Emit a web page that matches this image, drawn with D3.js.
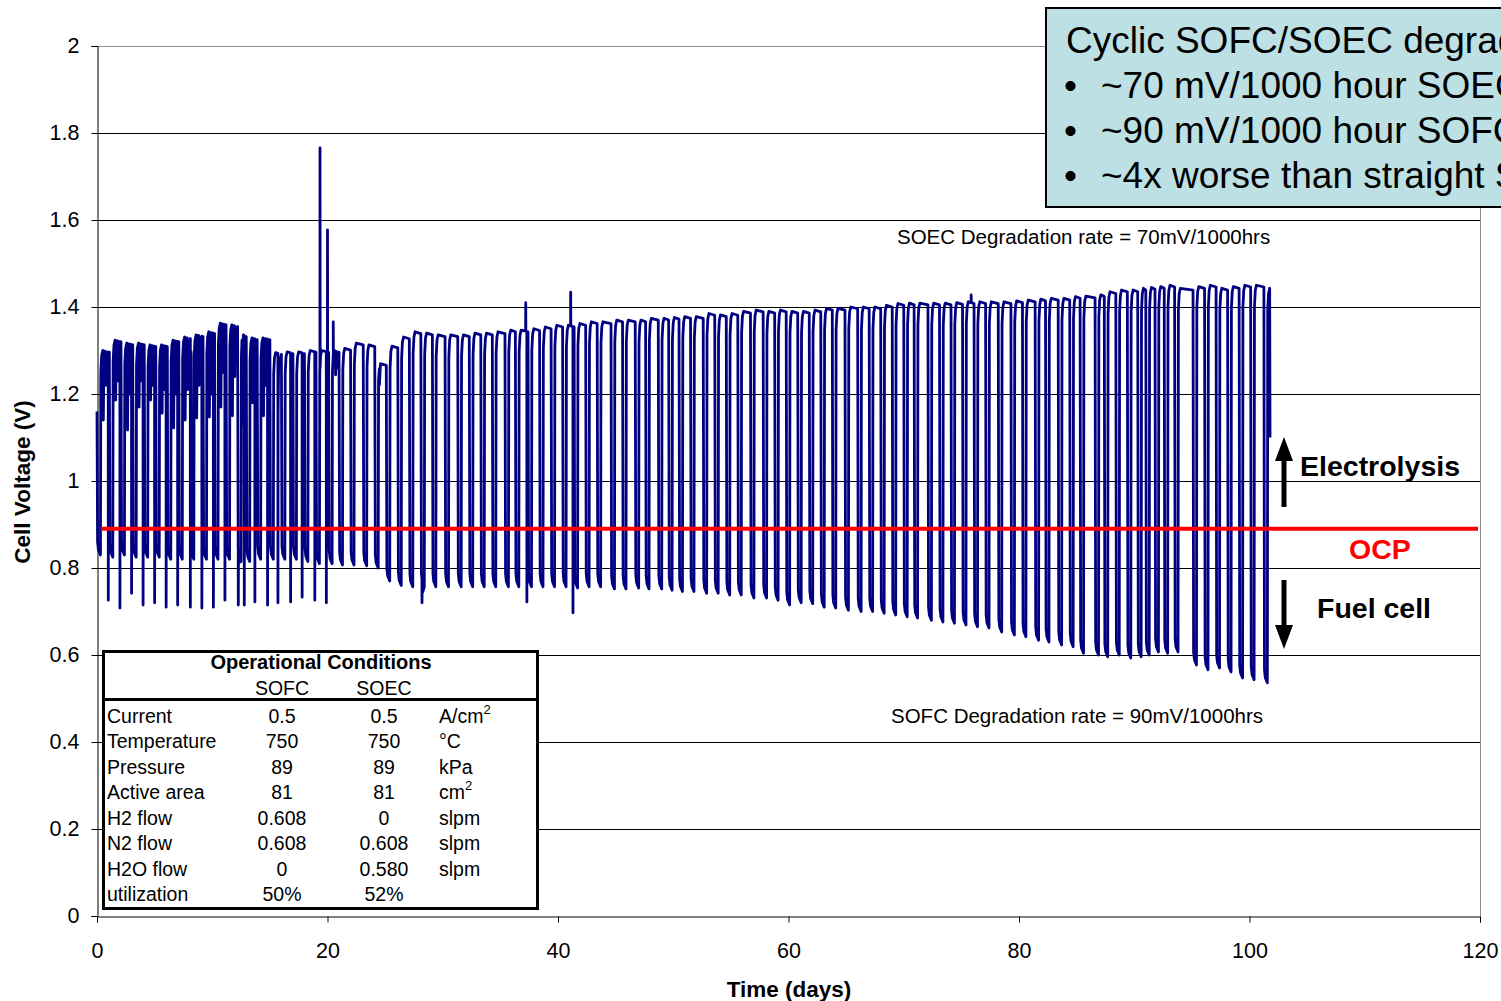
<!DOCTYPE html>
<html lang="en">
<head>
<meta charset="UTF-8">
<title>Cyclic SOFC/SOEC</title>
<script src="https://cdn.jsdelivr.net/npm/d3@7/dist/d3.min.js"></script>
<style>
  body { margin: 0; background: #fff; }
  text { font-family: "Liberation Sans", Arial, sans-serif; }
</style>
</head>
<body>
<div id="chart"></div>
<script>
// day of each SOFC bottom, the SOEC plateau that follows it, and the SOFC bottom value
var cycleDay = [
  0.2, 1.27, 2.28, 3.3, 4.3, 5.3, 6.3, 7.3, 8.3, 9.4,
  10.4, 11.4, 12.4, 13.15, 14.1, 15.2, 16.2, 17.2, 18.2, 19.2,
  20.3, 21.2, 22.2, 23.3, 24.3, 25.3, 26.3, 27.3, 28.3, 29.3,
  30.4, 31.5, 32.5, 33.5, 34.5, 35.6, 36.5, 37.6, 38.6, 39.6,
  40.6, 41.6, 42.6, 43.6, 44.8, 45.8, 46.9, 47.8, 48.9, 49.8,
  50.7, 51.7, 52.8, 53.8, 54.8, 55.8, 56.9, 58.0, 59.0, 60.0,
  61.0, 62.0, 63.0, 64.0, 65.1, 66.2, 67.2, 68.2, 69.2, 70.2,
  71.1, 72.3, 73.3, 74.3, 75.3, 76.3, 77.3, 78.4, 79.5, 80.5,
  81.6, 82.5, 83.6, 84.6, 85.5, 86.8, 87.6, 88.6, 89.6, 90.5,
  91.2, 92.0, 92.8, 93.7, 95.3, 96.3, 97.3, 98.3, 99.3, 100.3,
  101.45
];
var soecHigh = [
  1.30, 1.324, 1.317, 1.317, 1.313, 1.313, 1.324, 1.331, 1.336, 1.343,
  1.363, 1.359, 1.336, 1.329, 1.329, 1.295, 1.297, 1.297, 1.30, 1.30,
  1.30, 1.305, 1.317, 1.313, 1.27, 1.31, 1.331, 1.343, 1.34, 1.336,
  1.336, 1.336, 1.34, 1.34, 1.343, 1.347, 1.347, 1.35, 1.354, 1.358,
  1.358, 1.362, 1.366, 1.366, 1.37, 1.37, 1.37, 1.374, 1.374, 1.376,
  1.378, 1.378, 1.385, 1.382, 1.385, 1.39, 1.393, 1.39, 1.393, 1.39,
  1.39, 1.393, 1.397, 1.397, 1.40, 1.40, 1.40, 1.404, 1.408, 1.409,
  1.409, 1.409, 1.409, 1.41, 1.412, 1.412, 1.412, 1.412, 1.414, 1.416,
  1.418, 1.42, 1.42, 1.424, 1.425, 1.428, 1.435, 1.439, 1.439, 1.443,
  1.445, 1.447, 1.45, 1.443, 1.447, 1.45, 1.443, 1.447, 1.45, 1.45,
  1.443
];
var sofcLow = [
  0.83, 0.825, 0.83, 0.825, 0.825, 0.825, 0.82, 0.82, 0.82, 0.82,
  0.82, 0.82, 0.815, 0.815, 0.82, 0.82, 0.82, 0.82, 0.815, 0.81,
  0.81, 0.807, 0.807, 0.805, 0.80, 0.77, 0.76, 0.757, 0.757, 0.757,
  0.757, 0.757, 0.757, 0.757, 0.757, 0.757, 0.757, 0.757, 0.757, 0.757,
  0.757, 0.754, 0.757, 0.757, 0.752, 0.752, 0.754, 0.752, 0.752, 0.749,
  0.746, 0.746, 0.742, 0.742, 0.738, 0.738, 0.731, 0.731, 0.726, 0.715,
  0.72, 0.718, 0.71, 0.708, 0.703, 0.70, 0.70, 0.696, 0.692, 0.688,
  0.685, 0.68, 0.676, 0.673, 0.669, 0.665, 0.662, 0.653, 0.646, 0.642,
  0.634, 0.63, 0.623, 0.619, 0.604, 0.60, 0.596, 0.60, 0.593, 0.596,
  0.60, 0.607, 0.604, 0.607, 0.577, 0.566, 0.57, 0.561, 0.547, 0.543,
  0.536
];

// first and last recorded points
var startPoint = [0, 1.16];
var endPoint = [101.78, 1.1];

// short drops inside the noisy SOEC plateaus
var dipDay = [0.55, 0.75, 1.62, 1.8, 2.65, 2.85, 3.65, 3.85, 4.65, 4.85, 5.65, 5.85, 6.65, 6.85,
  7.65, 7.85, 8.65, 8.85, 9.75, 9.95, 10.75, 10.95, 11.75, 11.95, 12.6, 13.5, 13.65, 14.45, 14.65,
  20.7, 20.85, 24.45];
var dipV = [1.14, 1.22, 1.186, 1.23, 1.117, 1.2, 1.17, 1.23, 1.186, 1.22, 1.156, 1.21, 1.122, 1.2,
  1.14, 1.21, 1.145, 1.22, 1.147, 1.2, 1.17, 1.25, 1.15, 1.24, 1.13, 1.18, 1.22, 1.15, 1.22,
  1.244, 1.26, 1.24];

// deep downward spikes
var spikeDay = [0.98, 1.99, 3.0, 4.0, 5.0, 6.0, 7.0, 8.1, 9.1, 10.1, 11.1, 12.26, 12.78, 13.7,
  14.8, 15.7, 16.8, 17.8, 18.9, 19.9, 28.2, 37.3, 41.3];
var spikeLow = [0.726, 0.708, 0.742, 0.715, 0.72, 0.71, 0.715, 0.71, 0.708, 0.71, 0.726, 0.715,
  0.715, 0.722, 0.715, 0.72, 0.722, 0.733, 0.726, 0.72, 0.72, 0.722, 0.697];

// upward spikes
var peakDay = [19.35, 20.0, 20.5, 37.2, 41.1, 75.85];
var peakV = [1.766, 1.577, 1.366, 1.41, 1.434, 1.428];

var ocp = 0.89;
var xTicks = [0, 20, 40, 60, 80, 100, 120];
var yTicks = [0, 0.2, 0.4, 0.6, 0.8, 1, 1.2, 1.4, 1.6, 1.8, 2];

var tableRows = ["Current", "Temperature", "Pressure", "Active area", "H2 flow", "N2 flow", "H2O flow", "utilization"];
var tableSofc = ["0.5", "750", "89", "81", "0.608", "0.608", "0", "50%"];
var tableSoec = ["0.5", "750", "89", "81", "0", "0.608", "0.580", "52%"];
var tableUnit = ["A/cm|2", "°C", "kPa", "cm|2", "slpm", "slpm", "slpm", ""];

var boxLines = ["Cyclic SOFC/SOEC degradation", "~70 mV/1000 hour SOEC", "~90 mV/1000 hour SOFC", "~4x worse than straight SOEC"];

var w = 1501, h = 1001;
var svg = d3.select('#chart').append('svg').attr('width', w).attr('height', h);

var x = d3.scaleLinear().domain([0, 120]).range([97, 1480]);
var y = d3.scaleLinear().domain([0, 2]).range([916, 46]);

// grid
svg.append('g').selectAll('line').data(yTicks.filter(v => v > 0)).enter().append('line')
  .attr('x1', x(0)).attr('x2', x(120))
  .attr('y1', d => Math.round(y(d)) + 0.5).attr('y2', d => Math.round(y(d)) + 0.5)
  .attr('stroke', d => d == 2 ? '#8c8c8c' : '#000').attr('stroke-width', 1);
svg.append('line').attr('x1', x(120) + 0.5).attr('x2', x(120) + 0.5).attr('y1', y(2)).attr('y2', y(0))
  .attr('stroke', '#8c8c8c');

// axes
var yAxis = d3.axisLeft(y).tickValues(yTicks).tickSize(6).tickPadding(12).tickFormat(d3.format('~g'));
var xAxis = d3.axisBottom(x).tickValues(xTicks).tickSize(6).tickPadding(20);

svg.append('g').attr('class', 'y axis').attr('transform', 'translate(' + (x(0) + 0.5) + ',0)').call(yAxis);
svg.append('g').attr('class', 'x axis').attr('transform', 'translate(0,' + (Math.round(y(0)) + 0.5) + ')').call(xAxis);
svg.selectAll('.axis path').attr('stroke', '#000');
svg.selectAll('.axis line').attr('stroke', '#000');
svg.selectAll('.axis text').attr('font-size', '21.5px').attr('fill', '#000')
  .attr('font-family', '"Liberation Sans", Arial, sans-serif');

svg.append('text').attr('transform', 'translate(30,482) rotate(-90)').attr('text-anchor', 'middle')
  .attr('font-size', '22.5px').attr('font-weight', 'bold').text('Cell Voltage (V)');
svg.append('text').attr('x', 789).attr('y', 997).attr('text-anchor', 'middle')
  .attr('font-size', '22.5px').attr('font-weight', 'bold').text('Time (days)');

// build the voltage trace
var pts = [startPoint];
cycleDay.forEach(function (t, i) {
  var H = soecHigh[i], L = sofcLow[i];
  if (i > 0) pts.push([t - 0.2, soecHigh[i - 1] - 0.004]);
  pts.push([t - 0.15, L + 0.03], [t - 0.08, L + 0.012], [t + 0.1, L],
    [t + 0.13, H - 0.05], [t + 0.2, H - 0.012], [t + 0.3, H]);
});
pts.push(endPoint);

var bis = d3.bisector(p => p[0]).left;
function baseAt(d) {
  var i = bis(pts, d);
  var a = pts[i - 1], b = pts[i];
  return a[1] + (b[1] - a[1]) * (d - a[0]) / (b[0] - a[0]);
}
var extra = [];
dipDay.forEach(function (d, i) {
  var b = baseAt(d);
  extra.push([d - 0.02, b], [d, dipV[i]], [d + 0.05, b - 0.01]);
});
spikeDay.forEach(function (d, i) {
  var b = baseAt(d);
  extra.push([d - 0.005, b], [d, spikeLow[i]], [d + 0.015, Math.min(1.15, b)], [d + 0.06, b - 0.03]);
});
peakDay.forEach(function (d, i) {
  var b = baseAt(d);
  extra.push([d - 0.006, b], [d, peakV[i]], [d + 0.012, b]);
});
var all = pts.concat(extra).sort((a, b) => a[0] - b[0]);

var line = d3.line().x(d => x(d[0])).y(d => y(d[1]));
svg.append('path').datum(all).attr('d', line)
  .attr('fill', 'none').attr('stroke', '#000080').attr('stroke-width', 2.8)
  .attr('stroke-linejoin', 'round');

// OCP line
svg.append('line').attr('x1', x(0.35)).attr('x2', 1478).attr('y1', y(ocp)).attr('y2', y(ocp))
  .attr('stroke', '#ff0000').attr('stroke-width', 4);

// degradation notes
svg.append('text').attr('x', 897).attr('y', 244).attr('font-size', '20.5px')
  .text('SOEC Degradation rate = 70mV/1000hrs');
svg.append('text').attr('x', 891).attr('y', 723).attr('font-size', '20.5px')
  .text('SOFC Degradation rate = 90mV/1000hrs');

// mode labels and arrows
function arrow(x0, yTip, yEnd) {
  var dir = yEnd > yTip ? 1 : -1;
  var headLen = 24;
  svg.append('line').attr('x1', x0).attr('x2', x0).attr('y1', yTip + dir * headLen - dir * 2).attr('y2', yEnd)
    .attr('stroke', '#000').attr('stroke-width', 5);
  svg.append('path').attr('d', 'M' + x0 + ',' + yTip + 'L' + (x0 - 9) + ',' + (yTip + dir * headLen) +
    'L' + (x0 + 9) + ',' + (yTip + dir * headLen) + 'Z').attr('fill', '#000');
}
arrow(1284, 437, 507);
arrow(1284, 649, 580);
svg.append('text').attr('x', 1300).attr('y', 476).attr('font-size', '28.5px').attr('font-weight', 'bold').text('Electrolysis');
svg.append('text').attr('x', 1380).attr('y', 559).attr('text-anchor', 'middle').attr('font-size', '28.5px')
  .attr('font-weight', 'bold').attr('fill', '#ff0000').text('OCP');
svg.append('text').attr('x', 1317).attr('y', 618).attr('font-size', '28.5px').attr('font-weight', 'bold').text('Fuel cell');

// operational conditions table
var tb = svg.append('g');
tb.append('rect').attr('x', 103.5).attr('y', 651.5).attr('width', 434).attr('height', 257)
  .attr('fill', '#fff').attr('stroke', '#000').attr('stroke-width', 3);
tb.append('line').attr('x1', 103).attr('x2', 538).attr('y1', 699.5).attr('y2', 699.5)
  .attr('stroke', '#000').attr('stroke-width', 3);
tb.append('text').attr('x', 321).attr('y', 669).attr('text-anchor', 'middle').attr('font-size', '20px')
  .attr('font-weight', 'bold').text('Operational Conditions');
tb.append('text').attr('x', 282).attr('y', 695).attr('text-anchor', 'middle').attr('font-size', '19.5px').text('SOFC');
tb.append('text').attr('x', 384).attr('y', 695).attr('text-anchor', 'middle').attr('font-size', '19.5px').text('SOEC');
var rowY = d3.scalePoint().domain(tableRows).range([723, 901]);
tableRows.forEach(function (r, i) {
  var yy = rowY(r);
  tb.append('text').attr('x', 107).attr('y', yy).attr('font-size', '19.5px').text(r);
  tb.append('text').attr('x', 282).attr('y', yy).attr('text-anchor', 'middle').attr('font-size', '19.5px').text(tableSofc[i]);
  tb.append('text').attr('x', 384).attr('y', yy).attr('text-anchor', 'middle').attr('font-size', '19.5px').text(tableSoec[i]);
  var parts = tableUnit[i].split('|');
  var t = tb.append('text').attr('x', 439).attr('y', yy).attr('font-size', '19.5px');
  t.append('tspan').text(parts[0]);
  if (parts[1]) t.append('tspan').attr('dy', -9).attr('font-size', '13px').text(parts[1]);
});

// summary box, top right (cut by the page edge as in the source slide)
svg.append('rect').attr('x', 1046).attr('y', 8).attr('width', 470).attr('height', 199)
  .attr('fill', '#bde0e4').attr('stroke', '#000').attr('stroke-width', 2);
boxLines.forEach(function (s, i) {
  if (i == 0) {
    svg.append('text').attr('x', 1066).attr('y', 53).attr('font-size', '37px').text(s);
  } else {
    svg.append('text').attr('x', 1064).attr('y', 53 + i * 45).attr('font-size', '37px').text('•');
    svg.append('text').attr('x', 1101).attr('y', 53 + i * 45).attr('font-size', '37px').text(s);
  }
});
</script>
</body>
</html>
